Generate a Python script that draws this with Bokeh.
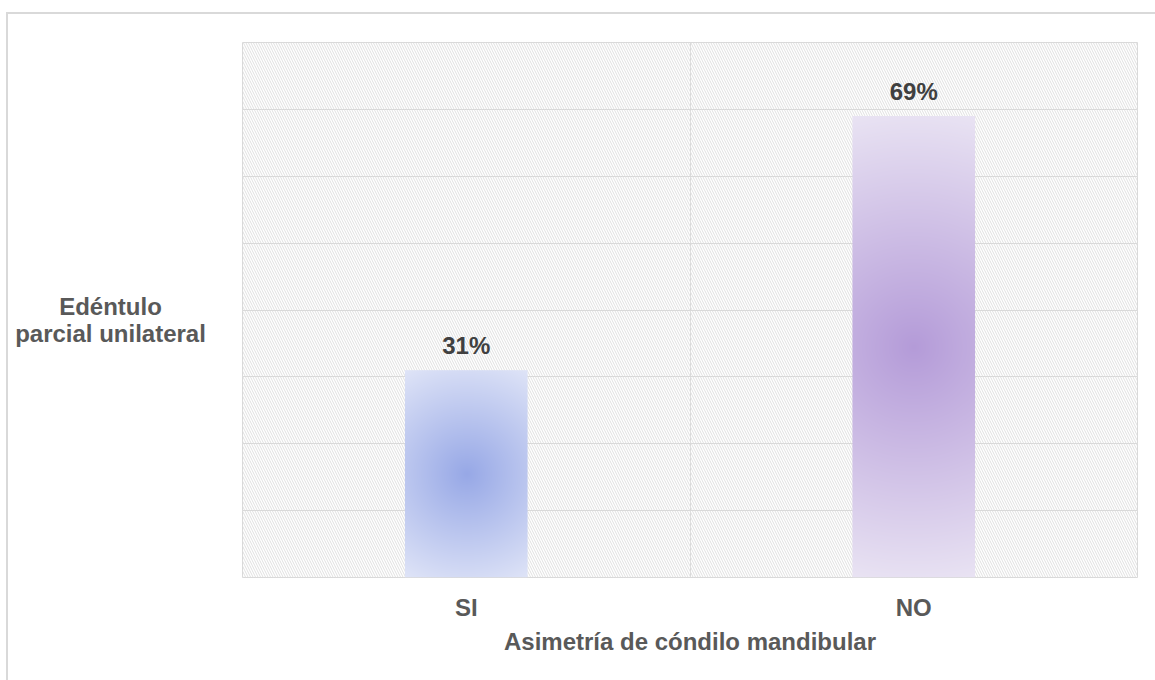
import numpy as np
from bokeh.plotting import figure
from bokeh.layouts import row
from bokeh.core.properties import value
from bokeh.models import (ColumnDataSource, FixedTicker, Grid, BoxAnnotation,
                          LabelSet, Range1d)
from bokeh.embed import file_html
from bokeh.resources import INLINE

# ---------------- data ----------------
categories = ["SI", "NO"]
values = [0.31, 0.69]
value_labels = ["31%", "69%"]
center_colors = ["#97a8e6", "#b49bd8"]
edge_colors = ["#dfe4f7", "#e9e3f3"]
y_grid_ticks = [0.1, 0.2, 0.3, 0.4, 0.5, 0.6, 0.7]
x_title = "Asimetría de cóndilo mandibular"
y_title_lines = ["Edéntulo", "parcial unilateral"]

# ---------------- layout ----------------
W, H = 1155, 680
LW = 230                     # width of the side panel holding the y title
ML, MR, MT, MB = 12, 18, 42, 103
PW = W - LW
FW, FH = PW - ML - MR, H - MT - MB
X_MAX = len(categories)
Y_MAX = 0.8
BAR_W = 0.274
FONT = "Liberation Sans"
GRID = "#d9d9d9"
FS = "24px"
LINE = "linear-gradient(#d9d9d9, #d9d9d9)"

# ---------------- side panel with the y title (pixel coordinates) ----------------
side = figure(width=LW, height=H, x_range=Range1d(0, LW), y_range=Range1d(H - MB, MT),
              output_backend="svg", toolbar_location=None,
              x_axis_location=None, y_axis_location=None,
              min_border_left=0, min_border_right=0,
              min_border_top=MT, min_border_bottom=MB)
side.xgrid.visible = False
side.ygrid.visible = False
side.outline_line_color = None
side.background_fill_alpha = 0
side.border_fill_alpha = 0
side.styles = {
    "background-color": "white",
    "background-image": f"{LINE}, {LINE}",
    "background-size": "2px 100%, 100% 2px",
    "background-position": "6px 12px, 6px 12px",
    "background-repeat": "no-repeat",
}
side.text(x=[110, 110], y=[306, 333], text=y_title_lines, text_align="center",
          text_baseline="alphabetic", text_font=value(FONT), text_font_style="bold",
          text_font_size=FS, text_color="#595959")

# ---------------- main chart ----------------
p = figure(width=PW, height=H, x_range=Range1d(0, X_MAX), y_range=Range1d(0, Y_MAX),
           output_backend="svg", toolbar_location=None, y_axis_location=None,
           min_border_left=ML, min_border_right=MR, min_border_top=MT, min_border_bottom=MB)
p.background_fill_color = "white"
p.border_fill_alpha = 0
p.outline_line_color = GRID
p.outline_line_width = 1
p.styles = {
    "background-color": "white",
    "background-image": LINE,
    "background-size": "100% 2px",
    "background-position": "0px 12px",
    "background-repeat": "no-repeat",
}

# hatch background
p.add_layout(BoxAnnotation(fill_alpha=0, line_alpha=0, hatch_pattern="\\",
                           hatch_color="#e0e0e0", hatch_weight=1, hatch_scale=5,
                           level="underlay"))

# grids
p.xgrid.ticker = FixedTicker(ticks=[1.0])
p.xgrid.grid_line_color = GRID
p.add_layout(Grid(dimension=1, ticker=FixedTicker(ticks=y_grid_ticks),
                  grid_line_color=GRID, grid_line_width=1))

# gradient bars
def gradient_image(v, c0, c1):
    w_px = BAR_W * FW / X_MAX
    h_px = v * FH / Y_MAX
    nx, ny = int(round(w_px)), int(round(h_px))
    xs = np.arange(nx) + 0.5 - nx / 2
    ys = np.arange(ny) + 0.5 - ny / 2
    dx, dy = np.meshgrid(xs, ys)
    t = np.clip(np.sqrt(dx ** 2 + dy ** 2) / np.sqrt((nx / 2) ** 2 + (ny / 2) ** 2), 0, 1)
    a = np.array([int(c0[i:i + 2], 16) for i in (1, 3, 5)], dtype=float)
    b = np.array([int(c1[i:i + 2], 16) for i in (1, 3, 5)], dtype=float)
    img = np.empty((ny, nx), dtype=np.uint32)
    view = img.view(dtype=np.uint8).reshape((ny, nx, 4))
    for k in range(3):
        view[:, :, k] = np.round(a[k] + (b[k] - a[k]) * t).astype(np.uint8)
    view[:, :, 3] = 255
    return img

centers = [i + 0.5 for i in range(len(categories))]
for cx, v, c0, c1 in zip(centers, values, center_colors, edge_colors):
    p.image_rgba(image=[gradient_image(v, c0, c1)], x=cx - BAR_W / 2, y=0, dw=BAR_W, dh=v)

# value labels
src = ColumnDataSource(dict(x=centers, y=values, t=value_labels))
p.add_layout(LabelSet(x="x", y="y", text="t", source=src, y_offset=16,
                      text_align="center", text_baseline="alphabetic",
                      text_font=value(FONT), text_font_style="bold", text_font_size=FS,
                      text_color="#404040"))

# x axis
ax = p.xaxis[0]
ax.ticker = FixedTicker(ticks=centers)
ax.major_label_overrides = {c: lab for c, lab in zip(centers, categories)}
ax.axis_line_color = None
ax.major_tick_line_color = None
ax.minor_tick_line_color = None
ax.major_label_standoff = 10
ax.major_label_text_font = FONT
ax.major_label_text_font_style = "bold"
ax.major_label_text_font_size = FS
ax.major_label_text_color = "#595959"
ax.axis_label = x_title
ax.axis_label_standoff = 4
ax.axis_label_text_font = FONT
ax.axis_label_text_font_style = "bold"
ax.axis_label_text_font_size = FS
ax.axis_label_text_color = "#595959"

layout = row(side, p, spacing=0)
open("out.html", "w").write(file_html(layout, INLINE))
